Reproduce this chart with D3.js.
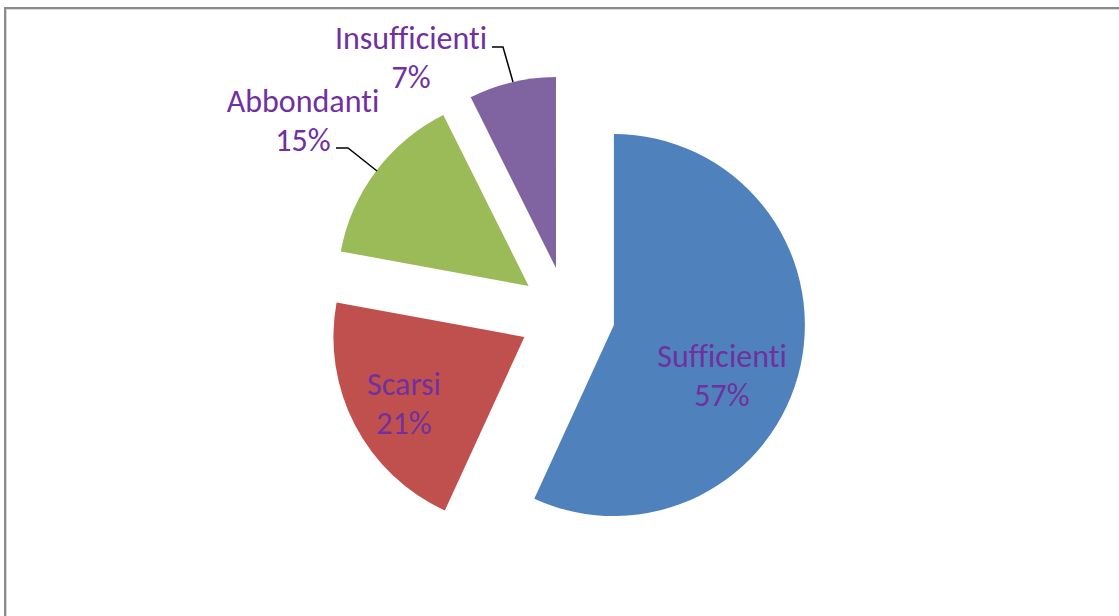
<!DOCTYPE html>
<html><head><meta charset="utf-8">
<script src="https://cdn.jsdelivr.net/npm/d3@7"></script>
<style>html,body{margin:0;padding:0;background:#fff;overflow:hidden}</style>
</head><body>
<svg id="chart" width="1119" height="616"></svg>
<script>
const categories = ["Sufficienti", "Scarsi", "Abbondanti", "Insufficienti"];
const values = [54, 20, 14, 7];
const colors = ["#4F81BD", "#C0504D", "#9BBB59", "#8064A2"];

const svg = d3.select("#chart");
// outer frame (extends beyond the right/bottom edge)
svg.append("rect").attr("x", 5).attr("y", 8).attr("width", 1200).attr("height", 700)
  .attr("fill", "none").attr("stroke", "#8a8a8a").attr("stroke-width", 2);
svg.append("rect").attr("x", 6.5).attr("y", 9.5).attr("width", 1200).attr("height", 700)
  .attr("fill", "none").attr("stroke", "#d9d9d9").attr("stroke-width", 1);

const cx = 567, cy = 314.8, radius = 191, explode = 48;
const pie = d3.pie().sort(null).value(d => d.value).startAngle(0).endAngle(2 * Math.PI);
const data = categories.map((c, i) => ({ name: c, value: values[i], color: colors[i] }));
const arcs = pie(data);
const arc = d3.arc().innerRadius(0).outerRadius(radius);

const g = svg.append("g").attr("transform", `translate(${cx},${cy})`);
g.selectAll("path").data(arcs).join("path")
  .attr("d", arc)
  .attr("fill", d => d.data.color)
  .attr("transform", d => {
    const m = (d.startAngle + d.endAngle) / 2;
    return `translate(${explode * Math.sin(m)},${-explode * Math.cos(m)})`;
  });

// label layout (line-1 baseline centre), leader lines
const labelPos = {
  "Sufficienti": [722, 367],
  "Scarsi": [404, 395],
  "Abbondanti": [303, 112],
  "Insufficienti": [411, 49]
};
const leaders = {
  "Abbondanti": [[336, 148], [348, 148], [377, 171]],
  "Insufficienti": [[492, 47], [503, 47], [513, 82]]
};
const line = d3.line();
Object.entries(leaders).forEach(([k, pts]) => {
  svg.append("path").attr("d", line(pts)).attr("fill", "none")
    .attr("stroke", "#000").attr("stroke-width", 1.5);
});
const total = d3.sum(values);
arcs.forEach(d => {
  const [x, y] = labelPos[d.data.name];
  const t = svg.append("text").attr("text-anchor", "middle")
    .attr("font-family", "Carlito, Calibri, Lato, sans-serif")
    .style("font-variant-ligatures", "none")
    .attr("font-size", 32).attr("fill", "#7030A0");
  t.append("tspan").attr("x", x).attr("y", y).text(d.data.name);
  t.append("tspan").attr("x", x).attr("y", y + 39).text(Math.round(d.data.value / total * 100) + "%");
});
</script>
</body></html>
